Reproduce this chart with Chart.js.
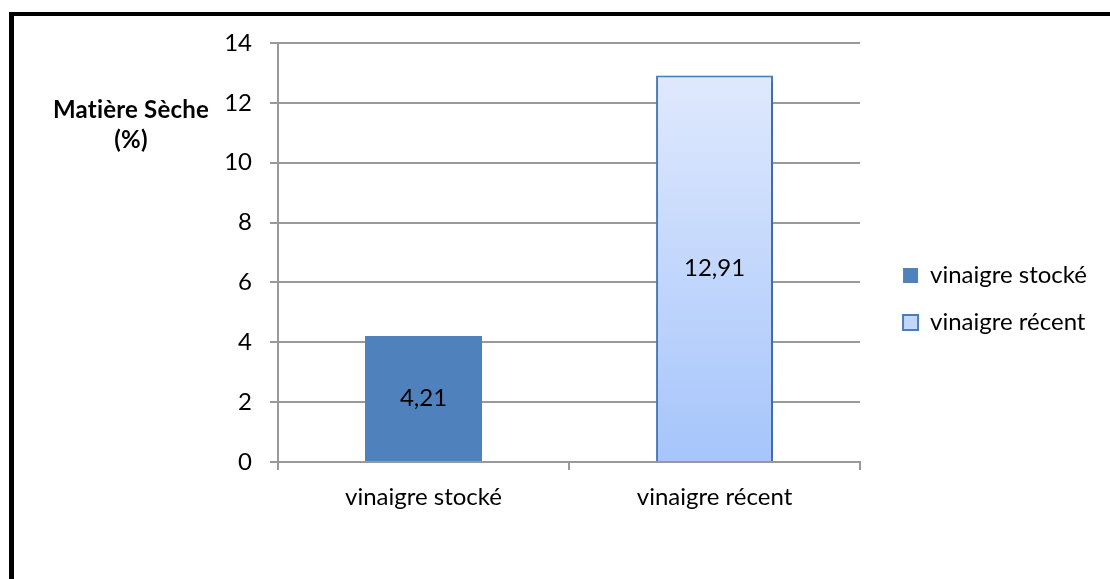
<!DOCTYPE html>
<html>
<head>
<meta charset="utf-8">
<script src="https://cdn.jsdelivr.net/npm/chart.js@4.4.1/dist/chart.umd.min.js"></script>
<style>
  html, body { margin: 0; padding: 0; background: #fff; }
  #wrap { position: relative; width: 1110px; height: 579px; overflow: hidden; }
  #frame { position: absolute; left: 9px; top: 12px; width: 1200px; height: 700px;
           border-left: 5px solid #000; border-top: 4px solid #000; }
  #ms-chart { position: absolute; left: 0; top: 0; }
</style>
</head>
<body>
<div id="wrap">
  <div id="frame"></div>
  <canvas id="ms-chart" width="1110" height="579"></canvas>
</div>
<script>
var categories = ["vinaigre stocké", "vinaigre récent"];
var stockeValues = [4.21, null];
var recentValues = [null, 12.91];
var yTicks = [0, 2, 4, 6, 8, 10, 12, 14];
var yTitle = ["Matière Sèche", "(%)"];

var FONT = "Lato";
var FONT_SIZE = 24;
var gridColor = "#999999";

var ctx = document.getElementById("ms-chart").getContext("2d");

// light-to-medium blue fill for the second bar, spanning the bar height
const recentFill = (context) => {
  var chart = context.chart;
  var area = chart.chartArea;
  if (!area || context.type !== "data" || context.raw == null) return "#c4d7fc";
  var top = chart.scales.y.getPixelForValue(context.raw);
  var g = chart.ctx.createLinearGradient(0, top, 0, area.bottom);
  g.addColorStop(0, "#dfe9fd");
  g.addColorStop(1, "#a6c5fb");
  return g;
};

// value written in the middle of each bar, with a decimal comma
const barValues = {
  id: "barValues",
  afterDatasetsDraw(chart) {
    var c = chart.ctx;
    c.save();
    c.font = FONT_SIZE + "px " + FONT;
    c.fillStyle = "#000";
    c.textAlign = "center";
    c.textBaseline = "middle";
    chart.data.datasets.forEach((ds, i) => {
      chart.getDatasetMeta(i).data.forEach((bar, j) => {
        var v = ds.data[j];
        if (v == null) return;
        c.fillText(String(v).replace(".", ","), bar.x, (bar.y + bar.base) / 2);
      });
    });
    c.restore();
  }
};

// horizontal y-axis title sitting left of the tick labels
const yAxisTitle = {
  id: "yAxisTitle",
  afterDraw(chart) {
    var c = chart.ctx;
    var a = chart.chartArea;
    c.save();
    c.font = "bold " + FONT_SIZE + "px " + FONT;
    c.letterSpacing = "0.2px"; // avoids the "ti" ligature
    c.fillStyle = "#000";
    c.textAlign = "center";
    c.textBaseline = "middle";
    yTitle.forEach((line, i) => c.fillText(line, a.left - 147, a.top + 67 + i * 30));
    c.restore();
  }
};

// soft drop shadow behind the gradient bar
const barShadow = {
  id: "barShadow",
  beforeDatasetDraw(chart, args) {
    if (args.index !== 1) return;
    var c = chart.ctx;
    c.save();
    c.shadowColor = "rgba(0,0,0,0.28)";
    c.shadowBlur = 5;
    c.shadowOffsetX = 2;
    c.shadowOffsetY = 2;
  },
  afterDatasetDraw(chart, args) {
    if (args.index !== 1) return;
    chart.ctx.restore();
  }
};

// keep a gap between plot and legend
const legendGap = {
  id: "legendGap",
  afterLayout(chart) {
    var lg = chart.legend;
    var shift = 20;
    lg.left += shift;
    lg.right += shift;
  }
};

var myChart = new Chart(ctx, {
  type: "bar",
  data: {
    labels: categories,
    datasets: [
      {
        label: categories[0],
        data: stockeValues,
        backgroundColor: "#4f81bd",
        borderWidth: 0
      },
      {
        label: categories[1],
        data: recentValues,
        backgroundColor: recentFill,
        borderColor: "#4a7ebb",
        borderWidth: 2
      }
    ]
  },
  options: {
    responsive: false,
    animation: false,
    skipNull: true,
    categoryPercentage: 1,
    barPercentage: 0.402,
    layout: { padding: { top: 43, left: 0, right: 33, bottom: 24 } },
    plugins: {
      tooltip: { enabled: false },
      legend: {
        position: "right",
        labels: {
          boxWidth: 15,
          boxHeight: 15,
          padding: 23,
          color: "#000",
          font: { family: FONT, size: FONT_SIZE }
        }
      }
    },
    scales: {
      x: {
        offset: true,
        grid: { offset: true, drawOnChartArea: false, tickLength: 8, color: gridColor, lineWidth: 2 },
        border: { color: gridColor, width: 2 },
        ticks: { color: "#000", padding: 13, font: { family: FONT, size: FONT_SIZE } },
        afterFit: (scale) => { scale.height = 579 - 24 - 462; }
      },
      y: {
        min: 0,
        max: 14,
        afterBuildTicks: (scale) => { scale.ticks = yTicks.map((v) => ({ value: v })); },
        grid: { tickLength: 8, color: gridColor, lineWidth: 2 },
        border: { color: gridColor, width: 2 },
        ticks: { color: "#000", padding: 18, font: { family: FONT, size: FONT_SIZE } },
        afterFit: (scale) => { scale.width = 278; }
      }
    }
  },
  plugins: [barShadow, barValues, yAxisTitle, legendGap]
});
</script>
</body>
</html>
